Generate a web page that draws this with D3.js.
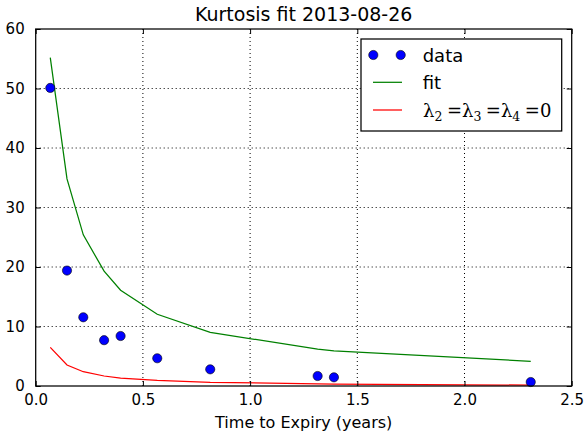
<!DOCTYPE html>
<html><head><meta charset="utf-8">
<script src="https://cdn.jsdelivr.net/npm/d3@7"></script>
<style>
body{margin:0;background:#fff;}
text{font-family:"DejaVu Sans",sans-serif;}
</style></head>
<body><svg id="c" width="586" height="434"></svg>
<script>
const xData = [0.068, 0.146, 0.222, 0.319, 0.396, 0.567, 0.814, 1.315, 1.391, 2.309];
const yData = [50.1, 19.4, 11.55, 7.7, 8.4, 4.66, 2.8, 1.68, 1.46, 0.67];
const yFit = [55.2, 34.8, 25.4, 19.3, 16.1, 12.05, 9.0, 6.2, 5.9, 4.15];
const yZero = [6.5, 3.53, 2.4, 1.68, 1.34, 0.95, 0.62, 0.35, 0.32, 0.15];
const xTicks = [0.0, 0.5, 1.0, 1.5, 2.0, 2.5];
const yTicks = [0, 10, 20, 30, 40, 50, 60];
const title = "Kurtosis fit 2013-08-26";
const xLabel = "Time to Expiry (years)";

const svg = d3.select("#c");
const L = 35.7, R = 571.7, T = 29, B = 386;
const x = d3.scaleLinear().domain([0, 2.5]).range([L, R]);
const y = d3.scaleLinear().domain([0, 60]).range([B, T]);

// grid
const g = svg.append("g");
g.selectAll(".gx").data(xTicks.slice(1, -1)).enter().append("line")
  .attr("x1", d => x(d)).attr("x2", d => x(d)).attr("y1", T).attr("y2", B)
  .attr("stroke", "#000").attr("stroke-width", 1).attr("stroke-dasharray", "1,3");
g.selectAll(".gy").data(yTicks.slice(1, -1)).enter().append("line")
  .attr("y1", d => y(d)).attr("y2", d => y(d)).attr("x1", L).attr("x2", R)
  .attr("stroke", "#000").attr("stroke-width", 1).attr("stroke-dasharray", "1,3");

// lines
const line = d3.line().x((d, i) => x(xData[i])).y(d => y(d));
svg.append("path").datum(yFit).attr("d", line).attr("fill", "none").attr("stroke", "#008000").attr("stroke-width", 1.25);
svg.append("path").datum(yZero).attr("d", line).attr("fill", "none").attr("stroke", "#ff0000").attr("stroke-width", 1.25);

// points
svg.selectAll(".pt").data(yData).enter().append("circle")
  .attr("cx", (d, i) => x(xData[i])).attr("cy", d => y(d)).attr("r", 4.6)
  .attr("fill", "#0000ff").attr("stroke", "#000").attr("stroke-width", 0.6);

// axes
const ax = svg.append("g").attr("transform", `translate(0,${B})`)
  .call(d3.axisBottom(x).tickValues(xTicks).tickFormat(d3.format(".1f")).tickSizeInner(-5).tickSizeOuter(0).tickPadding(8));
const ay = svg.append("g").attr("transform", `translate(${L},0)`)
  .call(d3.axisLeft(y).tickValues(yTicks).tickFormat(d3.format("d")).tickSizeInner(-5).tickSizeOuter(0).tickPadding(11));
const axT = svg.append("g").attr("transform", `translate(0,${T})`)
  .call(d3.axisTop(x).tickValues(xTicks).tickFormat("").tickSizeInner(-5).tickSizeOuter(0));
const ayR = svg.append("g").attr("transform", `translate(${R},0)`)
  .call(d3.axisRight(y).tickValues(yTicks).tickFormat("").tickSizeInner(-5).tickSizeOuter(0));
[ax, ay, axT, ayR].forEach(a => {
  a.select(".domain").remove();
  a.selectAll("line").attr("stroke", "#000").attr("stroke-width", 1);
  a.selectAll("text").attr("font-size", 15).attr("fill", "#000").attr("font-family", "DejaVu Sans");
});
ax.selectAll("text").attr("dy", "0.71em");
svg.append("rect").attr("x", L).attr("y", T).attr("width", R - L).attr("height", B - T)
  .attr("fill", "none").attr("stroke", "#000").attr("stroke-width", 1.25);

// title & label
svg.append("text").attr("x", (L + R) / 2).attr("y", 21).attr("text-anchor", "middle")
  .attr("font-size", 19).text(title);
svg.append("text").attr("x", (L + R) / 2).attr("y", 428).attr("text-anchor", "middle")
  .attr("font-size", 16).text(xLabel);

// legend
const lg = svg.append("g");
lg.append("rect").attr("x", 361).attr("y", 39).attr("width", 200.7).attr("height", 92)
  .attr("fill", "#fff").attr("stroke", "#000").attr("stroke-width", 1.25);
[373.3, 400.7].forEach(cx => lg.append("circle").attr("cx", cx).attr("cy", 55).attr("r", 4.6)
  .attr("fill", "#0000ff").attr("stroke", "#000").attr("stroke-width", 0.6));
lg.append("line").attr("x1", 373).attr("x2", 402).attr("y1", 82.3).attr("y2", 82.3).attr("stroke", "#008000").attr("stroke-width", 1.25);
lg.append("line").attr("x1", 373).attr("x2", 402).attr("y1", 110).attr("y2", 110).attr("stroke", "#ff0000").attr("stroke-width", 1.25);
lg.append("text").attr("x", 422.7).attr("y", 61.5).attr("font-size", 18).text("data");
lg.append("text").attr("x", 422.7).attr("y", 89).attr("font-size", 18).text("fit");
const mt = lg.append("text").attr("x", 423).attr("y", 116.5).attr("font-size", 18)
  .attr("font-family", "DejaVu Serif");
const parts = [["λ", ""], ["2", "sub"], ["=", ""], ["λ", ""], ["3", "sub"], ["=", ""], ["λ", ""], ["4", "sub"], ["=", ""], ["0", ""]];
parts.forEach(([t, k], i) => {
  const ts = mt.append("tspan").text(t).attr("font-family", "DejaVu Serif");
  if (k === "sub") ts.attr("font-size", 12.5).attr("dy", 4);
  else if (i > 0 && parts[i - 1][1] === "sub") ts.attr("dy", -4);
  if (t === "=") ts.attr("dx", 4.5);
});
</script></body></html>
